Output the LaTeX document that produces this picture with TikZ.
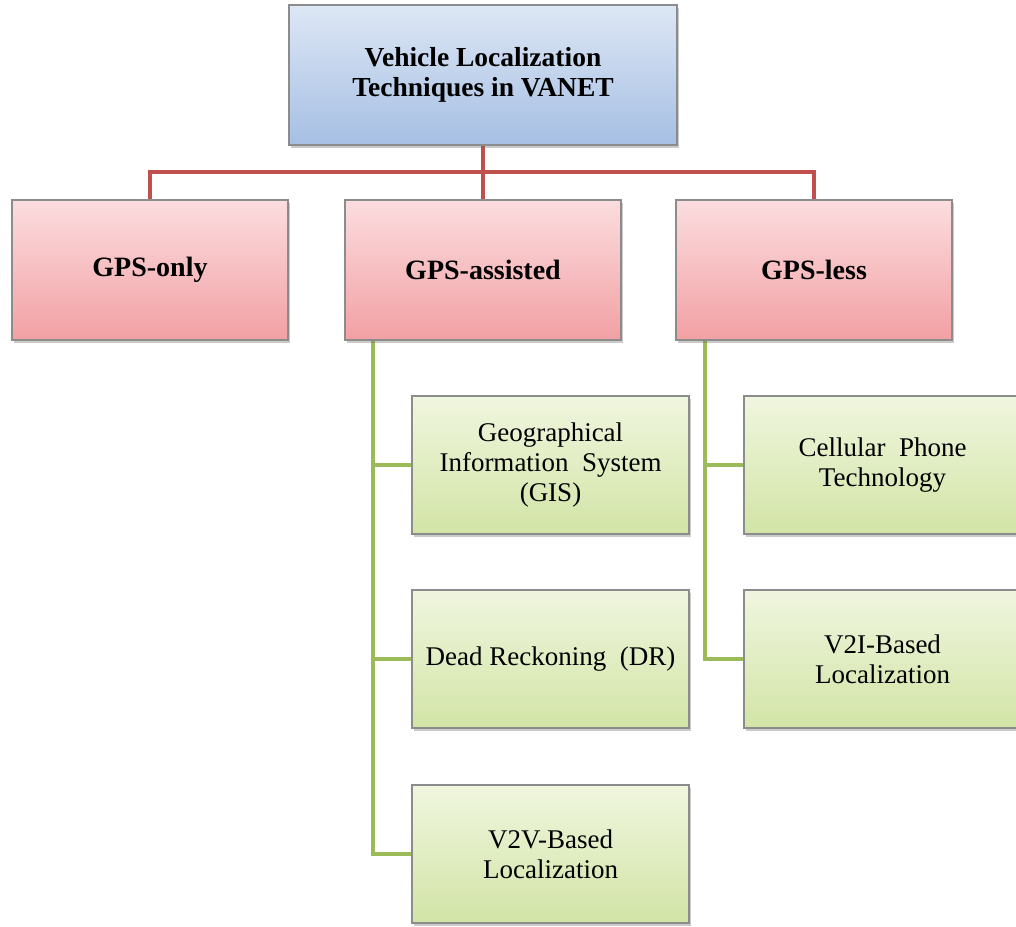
\documentclass[tikz,border=0pt]{standalone}
\usepackage{fontspec}
\setmainfont{Liberation Serif}
\usetikzlibrary{calc,shadows,backgrounds}
\definecolor{bluetop}{HTML}{DDE7F5}
\definecolor{bluebot}{HTML}{A6BFE3}
\definecolor{pinktop}{HTML}{FBDDDF}
\definecolor{pinkbot}{HTML}{F2A0A3}
\definecolor{greentop}{HTML}{F0F6DF}
\definecolor{greenbot}{HTML}{D2E4A6}
\definecolor{boxline}{HTML}{8C8C8C}
\definecolor{redline}{HTML}{C0504D}
\definecolor{greenline}{HTML}{9BBB59}
\tikzset{
  basebox/.style={rectangle, draw=boxline, line width=1.2pt, align=center,
    font=\fontsize{27}{30}\selectfont,
    drop shadow={shadow xshift=2pt, shadow yshift=-3pt, opacity=0.35, fill=black!60}},
  rootbox/.style={basebox, top color=bluetop, bottom color=bluebot,
    minimum width=388pt, minimum height=140pt, font=\fontsize{27.5}{30}\selectfont\bfseries},
  catbox/.style={basebox, top color=pinktop, bottom color=pinkbot,
    minimum width=276pt, minimum height=140pt, font=\fontsize{28}{30}\selectfont\bfseries},
  leafbox/.style={basebox, top color=greentop, bottom color=greenbot,
    minimum width=277pt, minimum height=138pt},
  redconn/.style={draw=redline, line width=4pt},
  greenconn/.style={draw=greenline, line width=4pt}
}
\begin{document}
\begin{tikzpicture}[x=1pt,y=-1pt]
\useasboundingbox (0,0) rectangle (1016,926);
\coordinate (busY) at (483,172);
\coordinate (gaLine) at (373,340);
\coordinate (glLine) at (705,340);
\node[rootbox] (root) at (483,75) {Vehicle Localization\\Techniques in VANET};
\node[catbox] (gpsonly) at (150,270) {GPS-only};
\node[catbox] (gpsassist) at (483,270) {GPS-assisted};
\node[catbox] (gpsless) at (814,270) {GPS-less};
\node[leafbox] (gis) at (550.5,465) {Geographical\\Information\ \ System\\(GIS)};
\node[leafbox] (dr) at (550.5,659) {Dead Reckoning\ \ (DR)};
\node[leafbox] (v2v) at (550.5,854) {V2V-Based\\Localization};
\node[leafbox] (cell) at (882.5,465) {Cellular\ \ Phone\\Technology};
\node[leafbox] (v2i) at (882.5,659) {V2I-Based\\Localization};
\begin{scope}[on background layer]
\draw[redconn] (root.south) -- (gpsassist.north);
\draw[redconn] (gpsonly.north) |- (busY) -| (gpsless.north);
\draw[greenconn] (gaLine) |- (gis.west);
\draw[greenconn] (gaLine) |- (dr.west);
\draw[greenconn] (gaLine) |- (v2v.west);
\draw[greenconn] (glLine) |- (cell.west);
\draw[greenconn] (glLine) |- (v2i.west);
\end{scope}
\end{tikzpicture}
\end{document}
